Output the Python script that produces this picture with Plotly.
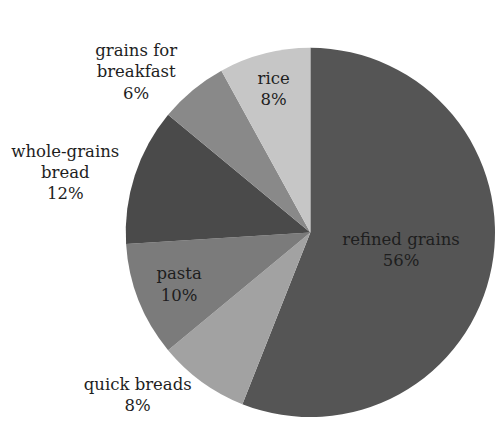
import plotly.graph_objects as go

categories = ["refined grains", "quick breads", "pasta", "whole-grains<br>bread",
              "grains for<br>breakfast", "rice"]
shares = [56, 8, 10, 12, 6, 8]
slice_colors = ["#555555", "#a2a2a2", "#7b7b7b", "#4a4a4a", "#898989", "#c6c6c6"]
text_positions = ["inside", "outside", "inside", "outside", "outside", "inside"]

fig = go.Figure(go.Pie(
    labels=categories,
    values=shares,
    sort=False,
    direction="clockwise",
    rotation=0,
    texttemplate="%{label}<br>%{percent:.0%}",
    textposition=text_positions,
    insidetextorientation="horizontal",
    textfont=dict(family="DejaVu Serif", size=16.5, color="#1e1e1e"),
    marker=dict(colors=slice_colors, line=dict(color="#666666", width=0)),
    domain=dict(x=[0.254, 1.0], y=[0.036, 0.9]),
    showlegend=False,
    hoverinfo="label+percent",
))

fig.update_layout(
    width=500, height=437,
    margin=dict(l=0, r=0, t=0, b=0),
    paper_bgcolor="white",
    plot_bgcolor="white",
    font=dict(family="DejaVu Serif"),
)

fig.write_html("out.html", config={"displayModeBar": False},
               post_script="document.body.style.margin='0px';document.body.style.overflow='hidden';")
